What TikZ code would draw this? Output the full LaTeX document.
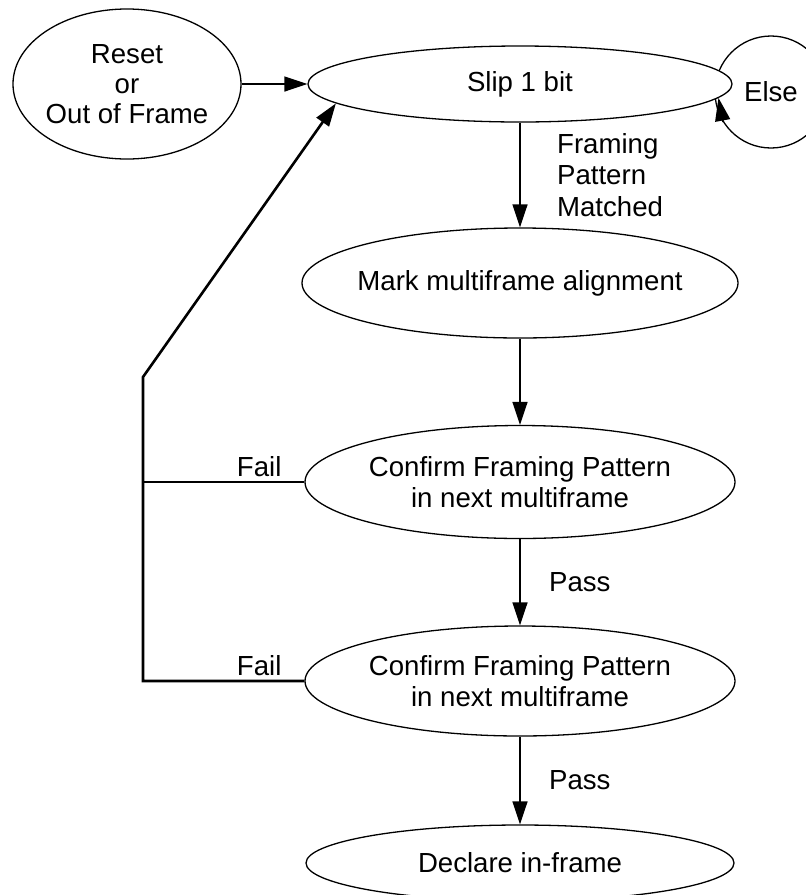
\documentclass[tikz,border=0pt]{standalone}
\usepackage{fontspec}
\setmainfont{Liberation Sans}
\usetikzlibrary{shapes.geometric, arrows.meta}
\tikzset{%
  >={Triangle[width=15pt,length=23pt]},
  % Specifications for style of nodes:
  base/.style = {
    draw=black,
    fill=white,
    line width=1.3pt,
    text centered,
    font=\fontsize{27.6}{30.3}\selectfont
  },
  state/.style={base, ellipse, inner ysep=0pt, inner xsep=-20pt},
  loopstate/.style={base, circle, inner sep=0pt, minimum size=112pt},
  lbl/.style={font=\fontsize{27.6}{31.5}\selectfont, align=left},
}

\begin{document}
\begin{tikzpicture}[
  x=1pt, y=-1pt,
  line width=1.6pt,
  node distance=199pt,
  align=center,
  ]
  \useasboundingbox (0,0) rectangle (806,895);
  % nodes
  \node (else) [loopstate] at (771,92) {Else};
  \node (slip) [state, minimum width=424pt, minimum height=76pt] at (520,84)
  {Slip 1 bit};
  \node (reset) [state, left of=slip, xshift=-194pt, minimum width=228pt, minimum height=150pt]
  {Reset \\ or \\ Out of Frame};
  \node (mark) [state, below of=slip, minimum width=436pt, minimum height=110pt]
  {Mark multiframe alignment};
  \node (conf1) [state, below of=mark, minimum width=430pt, minimum height=113pt]
  {Confirm Framing Pattern \\ in next multiframe};
  \node (conf2) [state, below of=conf1, minimum width=430pt, minimum height=110pt]
  {Confirm Framing Pattern \\ in next multiframe};
  \node (declare) [state, below of=conf2, yshift=17pt, minimum width=428pt, minimum height=76pt]
  {Declare in-frame};
  \coordinate (bend) at (143,377);
  % lines
  \draw[->] (reset) -- (slip);
  \draw[->] (else.212) -- (slip.356);
  \draw[->] (slip) -- node[lbl, right=33pt]{Framing\\Pattern\\Matched} (mark);
  \draw[->] (mark) -- (conf1);
  \draw[->] (conf1) -- node[lbl, right=25pt]{Pass} (conf2);
  \draw[->] (conf2) -- node[lbl, right=25pt]{Pass} (declare);
  \draw[->, line width=2.6pt] (conf2.west) -- node[lbl, above, pos=0.28, inner sep=4pt]{Fail}
    (conf2.west -| bend) -- (bend) -- (slip.186);
  \draw[line width=2.6pt] (conf1.west) -- node[lbl, above, pos=0.28, inner sep=4pt]{Fail}
    (conf1.west -| bend);
\end{tikzpicture}
\end{document}
